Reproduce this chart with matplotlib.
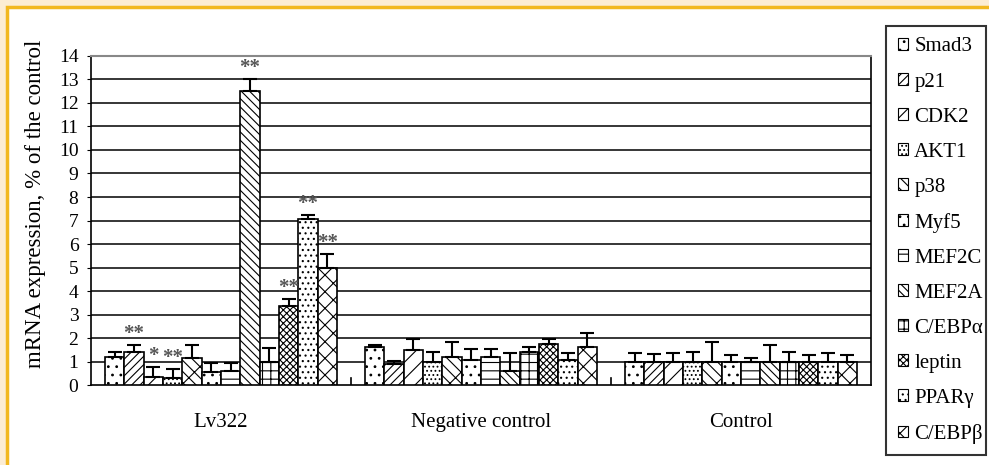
import numpy as np
import matplotlib
matplotlib.use("Agg")
import matplotlib.pyplot as plt
from matplotlib.patches import Patch, Rectangle

plt.rcParams['font.family'] = ['Liberation Serif', 'DejaVu Serif']
plt.rcParams['hatch.linewidth'] = 0.8

groups = ["Lv322", "Negative control", "Control"]
genes = ["Smad3", "p21", "CDK2", "AKT1", "p38", "Myf5", "MEF2C", "MEF2A",
         "C/EBPα", "leptin", "PPARγ", "C/EBPβ"]
hatches = ['..', '////', '//', '....', '/\\\\\\', '..', '--', '\\\\\\\\', '++', 'xxxxx', '...', 'xx']

lv322 = [1.2, 1.4, 0.35, 0.3, 1.15, 0.55, 0.6, 12.5, 1.0, 3.35, 7.05, 5.0]
lv322_err = [0.2, 0.3, 0.42, 0.38, 0.55, 0.38, 0.34, 0.5, 0.58, 0.3, 0.18, 0.58]
negative = [1.6, 0.9, 1.5, 1.0, 1.2, 1.05, 1.2, 0.6, 1.4, 1.75, 1.05, 1.6]
negative_err = [0.12, 0.12, 0.45, 0.42, 0.62, 0.47, 0.32, 0.75, 0.2, 0.2, 0.3, 0.62]
control = [1.0] * 12
control_err = [0.35, 0.3, 0.35, 0.42, 0.82, 0.28, 0.15, 0.7, 0.42, 0.28, 0.35, 0.28]

stars = {1: "**", 2: "*", 3: "**", 7: "**", 9: "**", 10: "**", 11: "**"}

values = np.array([lv322, negative, control])
errors = np.array([lv322_err, negative_err, control_err])

fig = plt.figure(figsize=(9.89, 4.65), dpi=100, facecolor='#FCEDD4')
fig.patches.append(Rectangle((7 / 989, -0.1), 1.2, (465 - 7) / 465 + 0.1,
                             transform=fig.transFigure, facecolor='white',
                             edgecolor='#F2B820', lw=2.5, zorder=-5))
ax = fig.add_axes([0.092, 0.172, 0.7887, 0.7076])
ax.set_facecolor('white')

x = np.arange(len(groups))
width = 0.0743
offsets = (np.arange(len(genes)) - 5.5) * width

for yv in range(1, 14):
    ax.axhline(yv, color='black', lw=1.1, zorder=1)

for i, gene in enumerate(genes):
    pos = x + offsets[i]
    ax.bar(pos, values[:, i], width, facecolor='white', edgecolor='black',
           hatch=hatches[i], lw=1.2, zorder=3)
    ax.errorbar(pos, values[:, i], yerr=[np.zeros(3), errors[:, i]], fmt='none',
                ecolor='black', elinewidth=1.5, capsize=5, capthick=1.5, zorder=4)

for i, s in stars.items():
    top = lv322[i] + lv322_err[i]
    ax.text(offsets[i], top + 0.05, s, ha='center', va='bottom', fontsize=15,
            color='#555555', fontweight='bold', zorder=5)

ax.set_xlim(-0.5, 2.5)
ax.set_ylim(0, 14)
ax.set_yticks(range(0, 15))
ax.tick_params(axis='y', direction='out', length=3, labelsize=14, pad=6)
ax.set_xticks(x)
ax.set_xticklabels(groups, fontsize=15)
ax.tick_params(axis='x', length=0, pad=20)
for b in [0.5, 1.5]:
    ax.plot([b, b], [0, 0.3], color='black', lw=1.2, zorder=2)
ax.set_ylabel("mRNA expression, % of the control", fontsize=16.5)
ax.yaxis.set_label_coords(-0.058, 0.55)

for side in ['left', 'bottom', 'right']:
    ax.spines[side].set_color('black')
    ax.spines[side].set_linewidth(1.2)
ax.spines['top'].set_color('#888888')
ax.spines['top'].set_linewidth(1.5)

handles = [Patch(facecolor='white', edgecolor='black', hatch=h, lw=0.8) for h in hatches]
leg = fig.legend(handles, genes, loc='upper left',
                 bbox_to_anchor=(0.896, 0.944, 0.101, 0.0), mode='expand',
                 frameon=True, fancybox=False, edgecolor='black', fontsize=15,
                 handlelength=0.5, handleheight=0.5, handletextpad=0.3,
                 labelspacing=0.77, borderpad=0.55, borderaxespad=0)
leg.get_frame().set_linewidth(1.5)

fig.savefig("out.png", dpi=100, facecolor=fig.get_facecolor())
